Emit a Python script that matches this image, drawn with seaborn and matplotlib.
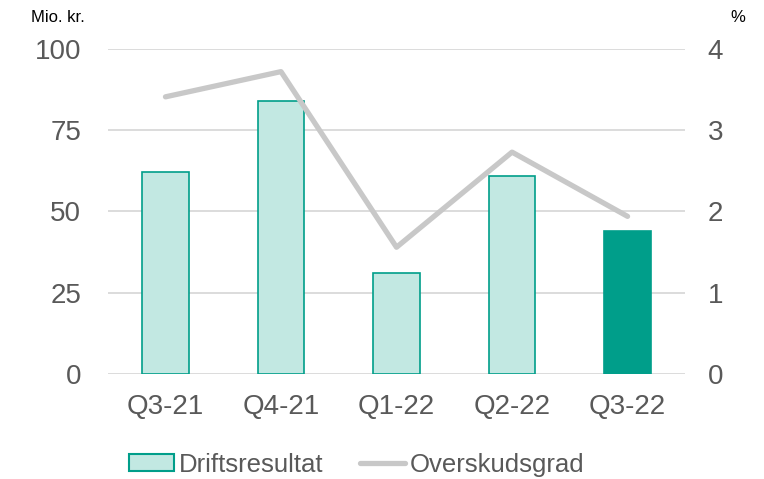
import pandas as pd
import numpy as np
import matplotlib
matplotlib.use("Agg")
import matplotlib.pyplot as plt
import seaborn as sns
from matplotlib.patches import Patch
from matplotlib.lines import Line2D

# data
quarters = ["Q3-21", "Q4-21", "Q1-22", "Q2-22", "Q3-22"]
driftsresultat = [62, 84, 31, 61, 44]          # Mio. kr.
overskudsgrad = [3.41, 3.72, 1.56, 2.73, 1.94]  # %

LIGHT = "#C2E8E2"
TEAL = "#009E8A"
GREY_LINE = "#C8C8C8"
GRID = "#D9D9D9"
TXT = "#595959"

sns.set_theme(style="white")
plt.rcParams["font.family"] = ["Liberation Sans", "DejaVu Sans"]

df = pd.DataFrame({"quarter": quarters, "drift": driftsresultat, "margin": overskudsgrad})

fig = plt.figure(figsize=(7.64, 4.79), dpi=100)
ax = fig.add_axes([0.141, 0.219, 0.756, 0.679])

bar_colors = [LIGHT] * (len(quarters) - 1) + [TEAL]
sns.barplot(data=df, x="quarter", y="drift", hue="quarter", palette=bar_colors,
            legend=False, width=0.4, ax=ax, saturation=1)
for p in ax.patches:
    p.set_edgecolor(TEAL)
    p.set_linewidth(1.2)

ax.set_ylim(0, 100)
ax.set_yticks([0, 25, 50, 75, 100])
ax.set_xlim(-0.5, 4.5)
ax.yaxis.grid(True, color=GRID, linewidth=1.3)
ax.set_axisbelow(True)
for s in ax.spines.values():
    s.set_visible(False)
ax.set_xlabel("")
ax.set_ylabel("")
ax.tick_params(axis="y", length=0, pad=19, labelsize=20, labelcolor=TXT)
ax.tick_params(axis="x", length=0, pad=14, labelsize=20, labelcolor=TXT)

ax2 = ax.twinx()
sns.lineplot(data=df, x="quarter", y="margin", ax=ax2, color=GREY_LINE,
             linewidth=3.8, sort=False, solid_capstyle="round")
ax2.set_ylim(0, 4)
ax2.set_yticks([0, 1, 2, 3, 4])
ax2.set_xlim(-0.5, 4.5)
for s in ax2.spines.values():
    s.set_visible(False)
ax2.set_ylabel("")
ax2.tick_params(axis="y", length=0, pad=16, labelsize=20, labelcolor=TXT)
ax2.grid(False)

fig.text(0.041, 0.963, "Mio. kr.", fontsize=12, color="black", va="center", ha="left")
fig.text(0.966, 0.963, "%", fontsize=12, color="black", va="center", ha="center")

handles = [
    Patch(facecolor=LIGHT, edgecolor=TEAL, linewidth=1.5, label="Driftsresultat"),
    Line2D([0], [0], color=GREY_LINE, linewidth=3.8, solid_capstyle="round", label="Overskudsgrad"),
]
fig.legend(handles=handles, loc="center", bbox_to_anchor=(0.467, 0.03), ncol=2,
           frameon=False, fontsize=18.5, labelcolor=TXT, handlelength=1.75,
           handleheight=0.6, handletextpad=0.2, columnspacing=1.4, borderaxespad=0)

fig.savefig("out.png", dpi=100)
